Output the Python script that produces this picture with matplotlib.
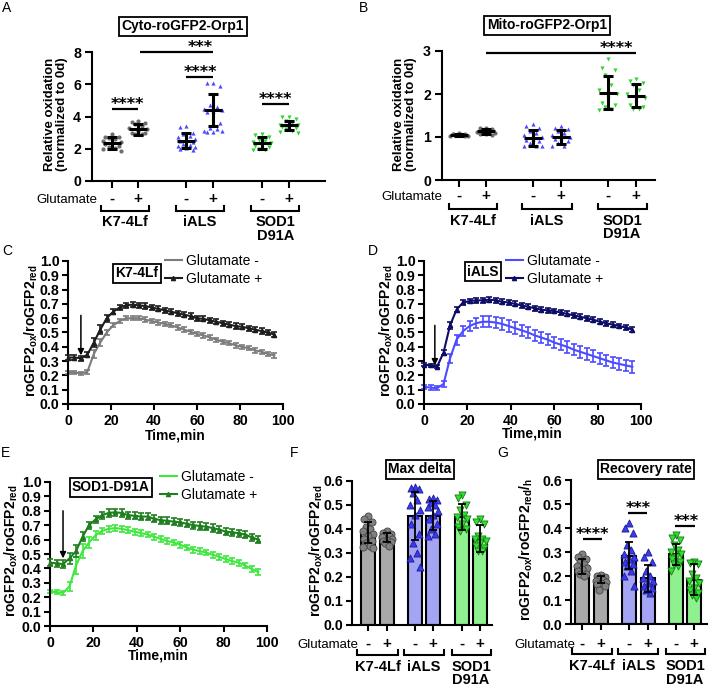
import numpy as np
import matplotlib
matplotlib.use('Agg')
import matplotlib.pyplot as plt
from matplotlib.transforms import Affine2D, offset_copy
from matplotlib.lines import Line2D

W, H = 708, 689
plt.rcParams['font.family'] = ['Liberation Sans', 'DejaVu Sans']
plt.rcParams['font.weight'] = 'bold'
plt.rcParams['mathtext.fontset'] = 'custom'
plt.rcParams['mathtext.rm'] = 'Liberation Sans:bold'
plt.rcParams['mathtext.bf'] = 'Liberation Sans:bold'
plt.rcParams['mathtext.it'] = 'Liberation Sans:bold'
plt.rcParams['mathtext.default'] = 'bf'

# ---------------- data ----------------
groups = ['K7-4Lf', 'iALS', 'SOD1\nD91A']
glu_signs = ['-', '+', '-', '+', '-', '+']

# Panel A: Cyto-roGFP2-Orp1 relative oxidation
A_means = [2.35, 3.2, 2.5, 4.4, 2.35, 3.45]
A_sd = [0.35, 0.35, 0.45, 1.0, 0.35, 0.3]
A_pts = [
    [2.9, 2.75, 2.7, 2.65, 2.6, 2.5, 2.4, 2.35, 2.3, 2.2, 2.1, 2.05, 2.0, 1.85],
    [3.7, 3.65, 3.6, 3.55, 3.4, 3.3, 3.2, 3.1, 3.0, 2.95, 2.9, 2.9],
    [3.4, 3.35, 3.0, 2.9, 2.8, 2.7, 2.6, 2.55, 2.5, 2.4, 2.3, 2.25, 2.2, 2.1, 2.05, 2.0, 1.95],
    [6.1, 6.05, 5.9, 4.7, 4.6, 4.45, 4.4, 4.35, 4.3, 3.6, 3.3, 3.2, 3.1, 3.1, 3.05, 3.05],
    [2.9, 2.85, 2.7, 2.55, 2.5, 2.4, 2.35, 2.3, 2.2, 2.1, 2.0, 1.95, 1.9],
    [4.0, 3.95, 3.85, 3.7, 3.6, 3.5, 3.45, 3.4, 3.35, 3.3, 3.2, 3.1, 3.05, 3.0],
]
# Panel B: Mito-roGFP2-Orp1
B_means = [1.05, 1.13, 0.98, 1.0, 2.03, 1.96]
B_sd = [0.03, 0.06, 0.18, 0.17, 0.38, 0.27]
B_pts = [
    [1.1, 1.08, 1.06, 1.05, 1.04, 1.03, 1.02, 1.05, 1.07, 1.03],
    [1.22, 1.2, 1.18, 1.15, 1.13, 1.12, 1.1, 1.08, 1.06, 1.05, 1.15],
    [1.3, 1.25, 1.2, 1.15, 1.1, 1.05, 1.0, 0.95, 0.92, 0.9, 0.85, 0.8, 0.78, 0.78],
    [1.25, 1.2, 1.18, 1.15, 1.1, 1.05, 1.0, 0.98, 0.95, 0.9, 0.85, 0.8, 0.78],
    [2.82, 2.6, 2.55, 2.45, 2.2, 2.1, 2.0, 1.9, 1.8, 1.75, 1.7, 1.65, 1.62],
    [2.35, 2.3, 2.25, 2.2, 2.1, 2.0, 1.9, 1.8, 1.75, 1.7, 1.65, 1.65],
]

# Time courses (min)
time = [0, 3, 6, 9, 12, 15, 18, 21, 24, 27, 30, 33, 36, 39, 42, 45, 48, 51, 54, 57,
        60, 63, 66, 69, 72, 75, 78, 81, 84, 87, 90, 93, 96]
C_minus = [0.22, 0.22, 0.215, 0.225, 0.35, 0.43, 0.50, 0.55, 0.58, 0.60, 0.60, 0.60, 0.59,
           0.58, 0.57, 0.56, 0.55, 0.535, 0.52, 0.505, 0.49, 0.48, 0.465, 0.45, 0.435,
           0.425, 0.41, 0.40, 0.39, 0.375, 0.365, 0.35, 0.34]
C_minus_err = [0.012] * 4 + [0.025, 0.025, 0.02] + [0.015] * 26
C_plus = [0.325, 0.325, 0.32, 0.345, 0.43, 0.52, 0.60, 0.645, 0.675, 0.69, 0.695, 0.69,
          0.685, 0.675, 0.665, 0.655, 0.645, 0.635, 0.625, 0.615, 0.60, 0.595, 0.585,
          0.575, 0.565, 0.555, 0.545, 0.54, 0.53, 0.52, 0.51, 0.50, 0.485]
C_plus_err = [0.018] * 4 + [0.03, 0.03, 0.025] + [0.018] * 26
D_minus = [0.12, 0.115, 0.11, 0.14, 0.32, 0.45, 0.51, 0.545, 0.565, 0.575, 0.575, 0.57,
           0.56, 0.545, 0.53, 0.515, 0.50, 0.48, 0.465, 0.45, 0.43, 0.415, 0.40, 0.38,
           0.365, 0.35, 0.335, 0.32, 0.305, 0.29, 0.28, 0.27, 0.26]
D_minus_err = [0.015, 0.015, 0.015, 0.02, 0.03, 0.035, 0.035, 0.035, 0.035, 0.04, 0.04,
               0.04, 0.04, 0.04, 0.04, 0.04, 0.04, 0.04, 0.04, 0.04, 0.04, 0.04, 0.04,
               0.04, 0.04, 0.04, 0.04, 0.04, 0.04, 0.04, 0.04, 0.04, 0.04]
D_plus = [0.275, 0.27, 0.26, 0.36, 0.55, 0.66, 0.71, 0.72, 0.725, 0.725, 0.73, 0.725,
          0.715, 0.71, 0.70, 0.69, 0.68, 0.67, 0.66, 0.655, 0.65, 0.64, 0.63, 0.62, 0.61,
          0.60, 0.59, 0.575, 0.565, 0.555, 0.545, 0.535, 0.52]
D_plus_err = [0.01] * 3 + [0.02, 0.025, 0.02] + [0.017] * 27
E_minus = [0.24, 0.235, 0.23, 0.275, 0.42, 0.52, 0.58, 0.63, 0.66, 0.675, 0.68, 0.675,
           0.665, 0.655, 0.645, 0.635, 0.62, 0.605, 0.59, 0.58, 0.565, 0.545, 0.53, 0.52,
           0.51, 0.495, 0.48, 0.465, 0.45, 0.44, 0.42, 0.395, 0.375]
E_minus_err = [0.012] * 3 + [0.03, 0.06, 0.05, 0.04, 0.03] + [0.02] * 25
E_plus = [0.44, 0.435, 0.43, 0.47, 0.52, 0.62, 0.70, 0.74, 0.77, 0.785, 0.79, 0.785,
          0.77, 0.765, 0.76, 0.76, 0.745, 0.735, 0.73, 0.725, 0.72, 0.71, 0.70, 0.695,
          0.69, 0.68, 0.67, 0.655, 0.65, 0.645, 0.635, 0.615, 0.60]
E_plus_err = [0.025] * 3 + [0.04, 0.04, 0.03] + [0.025] * 27

# Panel F: max delta
F_means = [0.385, 0.365, 0.455, 0.455, 0.45, 0.36]
F_sd = [0.045, 0.02, 0.10, 0.06, 0.055, 0.055]
F_pts = [
    [0.455, 0.44, 0.43, 0.41, 0.40, 0.39, 0.38, 0.37, 0.36, 0.35, 0.34, 0.33, 0.325, 0.32],
    [0.39, 0.385, 0.38, 0.375, 0.37, 0.365, 0.36, 0.355, 0.35, 0.345, 0.34, 0.33],
    [0.575, 0.57, 0.565, 0.55, 0.52, 0.50, 0.48, 0.46, 0.42, 0.38, 0.34, 0.30, 0.28, 0.24],
    [0.53, 0.525, 0.52, 0.51, 0.50, 0.49, 0.475, 0.46, 0.44, 0.42, 0.40, 0.38, 0.37],
    [0.54, 0.53, 0.50, 0.48, 0.46, 0.45, 0.44, 0.42, 0.41, 0.40, 0.39],
    [0.44, 0.43, 0.42, 0.37, 0.36, 0.36, 0.35, 0.34, 0.33, 0.32, 0.31, 0.31],
]
# Panel G: recovery rate
G_means = [0.24, 0.185, 0.285, 0.19, 0.29, 0.185]
G_sd = [0.03, 0.015, 0.055, 0.055, 0.045, 0.065]
G_pts = [
    [0.29, 0.28, 0.27, 0.26, 0.25, 0.24, 0.235, 0.23, 0.22, 0.21, 0.21, 0.20],
    [0.205, 0.20, 0.195, 0.19, 0.185, 0.18, 0.175, 0.17, 0.165, 0.16, 0.14],
    [0.42, 0.40, 0.38, 0.33, 0.31, 0.29, 0.28, 0.27, 0.26, 0.25, 0.24, 0.22, 0.20, 0.16],
    [0.30, 0.28, 0.26, 0.22, 0.20, 0.19, 0.18, 0.17, 0.16, 0.15, 0.14, 0.13],
    [0.37, 0.36, 0.35, 0.33, 0.31, 0.30, 0.29, 0.28, 0.27, 0.26, 0.25, 0.24, 0.22],
    [0.26, 0.255, 0.25, 0.21, 0.19, 0.18, 0.17, 0.15, 0.14, 0.13, 0.12, 0.11],
]

# ---------------- styles ----------------
dot_colors = ['#6e6e6e', '#6e6e6e', '#4a4aff', '#4a4aff', '#2fd62f', '#2fd62f']
dot_markers = ['o', 'o', '^', '^', 'v', 'v']
bar_fill = ['#a9a9a9', '#a9a9a9', '#a4a4f4', '#a4a4f4', '#8ef08e', '#8ef08e']
pt_face = ['#808080', '#808080', '#3a3af2', '#3a3af2', '#2ee22e', '#2ee22e']
pt_edge = ['#454545', '#454545', '#1c1c90', '#1c1c90', '#137a13', '#137a13']
jit = [0.0, -0.24, 0.24, -0.12, 0.12, -0.32, 0.32]

fig = plt.figure(figsize=(W / 100, H / 100), dpi=100)
P = Affine2D().scale(1, -1).translate(0, H)   # figure pixels, origin top-left


def px_axes(l, t, r, b):
    return fig.add_axes([l / W, 1 - b / H, (r - l) / W, (b - t) / H])


def ftext(x, y, s, **kw):
    fig.text(x / W, 1 - y / H, s, **kw)


def xpx(ax, x):
    return ax.transData.transform((x, 0))[0]


def style(ax, ylen=4.5, ypad=2.5, xlen=4.5, xpad=2.5, fs=10.2):
    for sp in ['top', 'right']:
        ax.spines[sp].set_visible(False)
    for sp in ['left', 'bottom']:
        ax.spines[sp].set_linewidth(1.5)
    ax.tick_params(axis='y', width=1.5, length=ylen, pad=ypad, labelsize=fs)
    ax.tick_params(axis='x', width=1.5, length=xlen, pad=xpad, labelsize=fs)


def cat_axis(ax, pos, pm_y, br_y, grp_y, glu_right, glu_y, fs=10.5):
    ax.set_xticks(pos)
    ax.set_xticklabels([])
    for p, s in zip(pos, glu_signs):
        ax.text(xpx(ax, p), pm_y, s, transform=P, ha='center', va='baseline',
                fontsize=11, clip_on=False)
    ftext(glu_right, glu_y, 'Glutamate', ha='right', va='baseline', fontsize=9.5,
          weight='normal')
    for g in range(3):
        x0 = xpx(ax, pos[2 * g]) - 10.5
        x1 = xpx(ax, pos[2 * g + 1]) + 10.5
        ax.add_line(Line2D([x0, x0, x1, x1], [br_y - 5, br_y, br_y, br_y - 5],
                           transform=P, color='k', lw=1.5, clip_on=False,
                           solid_joinstyle='miter'))
        xc = (xpx(ax, pos[2 * g]) + xpx(ax, pos[2 * g + 1])) / 2
        for k, line in enumerate(groups[g].split('\n')):
            ax.text(xc, grp_y + 13.5 * k, line, transform=P, ha='center',
                    va='baseline', fontsize=fs, clip_on=False)


def sig(ax, x0, x1, y, tx, s, fs=11.5):
    ax.plot([x0, x1], [y, y], color='k', lw=1.6, clip_on=False,
            solid_capstyle='butt')
    ax.text(tx, y, s, transform=offset_copy(ax.transData, fig=fig, y=0, units='dots'),
            ha='center', va='baseline', fontsize=fs, family='DejaVu Sans',
            weight='bold', clip_on=False)


def boxtitle(x, y, s, fs=10):
    ftext(x, y, s, ha='center', va='center', fontsize=fs,
          bbox=dict(boxstyle='square,pad=0.18', fc='white', ec='k', lw=1.3))


def dotplot(ax, pos, pts, means, sds, half=0.34, spread=1.0):
    for i in range(6):
        y = np.array(pts[i])
        offs = np.array([jit[k % len(jit)] for k in range(len(y))]) * spread
        ax.scatter(pos[i] + offs, y, s=9, marker=dot_markers[i], color=dot_colors[i],
                   linewidths=0, zorder=2, clip_on=False)
        ax.hlines(means[i], pos[i] - half, pos[i] + half, color='k', lw=2.2, zorder=3)
        ax.errorbar(pos[i], means[i], yerr=sds[i], fmt='none', ecolor='k', elinewidth=2.2,
                    capsize=3.8, capthick=2.2, zorder=3)


def barplot(ax, pos, pts, means, sds, width=0.73):
    ax.bar(pos, means, width=width, color=bar_fill, edgecolor='k', linewidth=1.5,
           zorder=1)
    for i in range(6):
        y = np.array(pts[i])
        offs = np.array([jit[k % len(jit)] for k in range(len(y))]) * 0.85
        ax.scatter(pos[i] + offs, y, s=26, marker=dot_markers[i], color=pt_face[i],
                   edgecolors=pt_edge[i], linewidths=0.6, zorder=2)
    ax.errorbar(pos, means, yerr=sds, fmt='none', ecolor='k', elinewidth=1.3,
                capsize=2.6, capthick=1.3, zorder=3)


# ---------------- Panel A ----------------
axA = px_axes(92, 52, 325, 181)
posA = [0, 1, 2.83, 3.85, 5.7, 6.73]
axA.set_xlim(-0.76, 8.1)
axA.set_ylim(0, 8)
axA.set_yticks([0, 2, 4, 6, 8])
style(axA, ylen=5, ypad=3, xlen=5)
dotplot(axA, posA, A_pts, A_means, A_sd, half=0.34, spread=1.05)
cat_axis(axA, posA, 203, 211, 226, 97, 203)
sig(axA, 0, 1, 4.45, 0.57, '****')
sig(axA, 2.83, 3.85, 6.45, 3.35, '****')
sig(axA, 1.08, 3.85, 8.0, 3.35, '***')
sig(axA, 5.7, 6.73, 4.77, 6.2, '****')
ftext(56, 114, 'Relative oxidation\n(normalized to 0d)', rotation=90, ha='center',
      va='center', fontsize=9.5, linespacing=0.95)
boxtitle(183, 26, 'Cyto-roGFP2-Orp1')

# ---------------- Panel B ----------------
axB = px_axes(442, 51, 655, 180)
posB = [0, 1, 2.74, 3.78, 5.52, 6.56]
axB.set_xlim(-0.63, 7.26)
axB.set_ylim(0, 3)
axB.set_yticks([0, 1, 2, 3])
style(axB, ylen=5, ypad=3, xlen=5)
dotplot(axB, posB, B_pts, B_means, B_sd, half=0.34, spread=1.0)
cat_axis(axB, posB, 200, 209, 225, 442, 200)
sig(axB, 1.0, 6.56, 2.95, 5.85, '****')
ftext(405, 114, 'Relative oxidation\n(normalized to 0d)', rotation=90, ha='center',
      va='center', fontsize=9.5, linespacing=0.95)
boxtitle(547, 25, 'Mito-roGFP2-Orp1')

# ---------------- Time course panels ----------------
ylab = r'roGFP2$_{ox}$/roGFP2$_{red}$'


def timecourse(rect, ym, yme, yp, ype, cm, cp, title, tpos, leg_xy, arrow, ylab_xy, xl_y):
    ax = px_axes(*rect)
    ax.set_xlim(0, 100)
    ax.set_ylim(0, 1.0)
    ax.set_xticks([0, 20, 40, 60, 80, 100])
    ax.set_yticks(np.round(np.arange(0, 1.01, 0.1), 1))
    ax.set_yticklabels(['%.1f' % v for v in np.round(np.arange(0, 1.01, 0.1), 1)])
    style(ax, ylen=4.5, ypad=1.5, xlen=4.5, xpad=3)
    ax.errorbar(time, ym, yerr=yme, color=cm, lw=1.5, elinewidth=1.2, capsize=2.2,
                capthick=1.2, clip_on=False, zorder=2)
    ax.errorbar(time, yp, yerr=ype, color=cp, lw=1.5, elinewidth=1.2, capsize=2.2,
                capthick=1.2, marker='^', ms=3, clip_on=False, zorder=3)
    ax.annotate('', xy=(arrow[0], arrow[2]), xytext=(arrow[0], arrow[1]),
                arrowprops=dict(arrowstyle='-|>', color='k', lw=1.1, mutation_scale=9,
                                shrinkA=0, shrinkB=0))
    handles = [Line2D([], [], color=cm, lw=1.5),
               Line2D([], [], color=cp, lw=1.5, marker='^', ms=3)]
    ax.legend(handles, ['Glutamate -', 'Glutamate +'], loc='upper left',
              bbox_to_anchor=(leg_xy[0] / W, 1 - leg_xy[1] / H),
              bbox_transform=fig.transFigure, frameon=False, borderpad=0,
              borderaxespad=0, handlelength=1.2, handletextpad=0.3,
              labelspacing=0.3, prop=dict(size=10, weight='normal'))
    boxtitle(tpos[0], tpos[1], title)
    ftext(ylab_xy[0], ylab_xy[1], ylab, rotation=90, ha='center', va='center',
          fontsize=10)
    ftext((rect[0] + rect[2]) / 2, xl_y, 'Time,min', ha='center', va='baseline',
          fontsize=10)
    return ax


timecourse((68, 261, 283, 404), C_minus, C_minus_err, C_plus, C_plus_err,
           '#7c7c7c', '#1e1e1e', 'K7-4Lf', (137, 273), (165, 254),
           (6, 0.62, 0.34), (31, 331), 440)
timecourse((424, 261, 641, 404), D_minus, D_minus_err, D_plus, D_plus_err,
           '#4b4bff', '#0d0d66', 'iALS', (483, 272), (506, 254),
           (5, 0.55, 0.27), (386, 331), 438)
timecourse((50, 482, 267, 626), E_minus, E_minus_err, E_plus, E_plus_err,
           '#3de83d', '#1f7f1f', 'SOD1-D91A', (111, 487), (160, 470),
           (6, 0.80, 0.47), (11, 551), 660)

# ---------------- Panel F ----------------
axF = px_axes(352, 481, 492, 625)
posF = [0, 1, 2.45, 3.4, 4.9, 5.85]
axF.set_xlim(-0.83, 6.46)
axF.set_ylim(0, 0.6)
axF.set_yticks([0, 0.1, 0.2, 0.3, 0.4, 0.5, 0.6])
axF.set_yticklabels(['0.0', '0.1', '0.2', '0.3', '0.4', '0.5', '0.6'])
style(axF, ylen=4.5, ypad=2, xlen=4.5)
barplot(axF, posF, F_pts, F_means, F_sd)
cat_axis(axF, posF, 648, 655, 671, 358, 648)
ftext(316, 551, ylab, rotation=90, ha='center', va='center', fontsize=10)
boxtitle(420, 469, 'Max delta')

# ---------------- Panel G ----------------
axG = px_axes(571, 480, 707, 624)
posG = [0, 1, 2.47, 3.47, 4.95, 5.9]
axG.set_xlim(-0.58, 6.58)
axG.set_ylim(0, 0.6)
axG.set_yticks([0, 0.1, 0.2, 0.3, 0.4, 0.5, 0.6])
axG.set_yticklabels(['0.0', '0.1', '0.2', '0.3', '0.4', '0.5', '0.6'])
style(axG, ylen=4.5, ypad=2, xlen=4.5)
barplot(axG, posG, G_pts, G_means, G_sd)
cat_axis(axG, posG, 648, 654, 670, 575, 648)
sig(axG, 0.05, 1.05, 0.354, 0.53, '****')
sig(axG, 2.42, 3.42, 0.4625, 2.95, '***')
sig(axG, 4.9, 5.95, 0.408, 5.47, '***')
ftext(526, 549, ylab + r'/$_{h}$', rotation=90, ha='center', va='center', fontsize=10)
boxtitle(646, 469, 'Recovery rate')

# ---------------- Panel letters ----------------
for s, x, y in [('A', 7, 8), ('B', 363, 8), ('C', 7, 251), ('D', 373, 251),
                ('E', 6, 453), ('F', 294, 453), ('G', 503, 453)]:
    ftext(x, y, s, ha='center', va='center', fontsize=10, weight='normal')

fig.savefig('out.png', dpi=100)
